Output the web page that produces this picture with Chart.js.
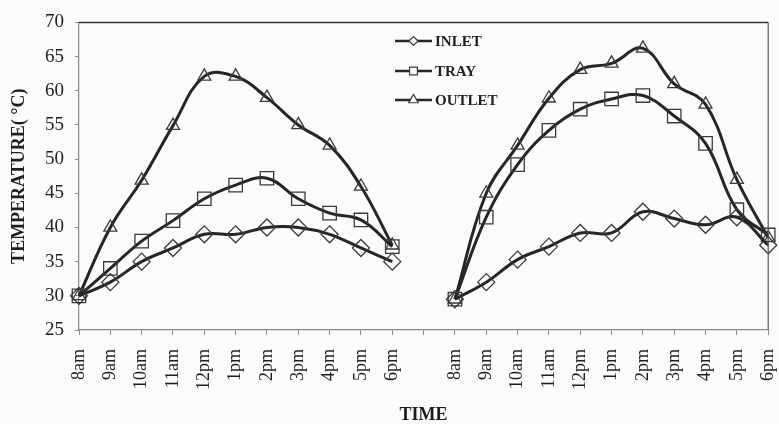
<!DOCTYPE html>
<html>
<head>
<meta charset="utf-8">
<script src="https://cdn.jsdelivr.net/npm/chart.js@4.4.1/dist/chart.umd.min.js"></script>
<style>
  html, body { margin: 0; padding: 0; background: #fbfbfb; }
  #wrap { width: 779px; height: 424px; position: relative; }
</style>
</head>
<body>
<div id="wrap"><canvas id="c" width="779" height="424"></canvas></div>
<script>
const categories = ['8am','9am','10am','11am','12pm','1pm','2pm','3pm','4pm','5pm','6pm','',
                    '8am','9am','10am','11am','12pm','1pm','2pm','3pm','4pm','5pm','6pm'];
const seriesNames = ['INLET', 'TRAY', 'OUTLET'];
const inlet  = [30, 32, 35, 37, 39, 39, 40, 40, 39, 37, 35, null,
                29.5, 32, 35.3, 37.2, 39.2, 39.2, 42.3, 41.3, 40.4, 41.5, 37.4];
const tray   = [30, 34, 38, 41, 44.2, 46.2, 47.2, 44.2, 42.1, 41.1, 37.2, null,
                29.5, 41.5, 49.2, 54.2, 57.3, 58.8, 59.3, 56.3, 52.3, 42.6, 38.9];
const outlet = [30, 40, 46.9, 54.9, 62.1, 62.1, 59, 55, 52, 46, 37.4, null,
                29.5, 45, 52, 58.9, 63.1, 64, 66.2, 61, 58, 47, 38.5];
const yTicks = [25, 30, 35, 40, 45, 50, 55, 60, 65, 70];

const FONT = '"Liberation Serif", "Times New Roman", serif';
const LINE = '#262626';
const MARK = '#3a3a3a';
const styles = [
  { pointStyle: 'rectRot', radius: 8.5 },
  { pointStyle: 'rect', radius: 9.5 },
  { pointStyle: 'triangle', radius: 7.5 }
];
const values = [inlet, tray, outlet];

const datasets = values.map((v, i) => ({
  label: seriesNames[i],
  data: v,
  borderColor: LINE,
  borderWidth: 3,
  tension: 0.4,
  spanGaps: false,
  pointStyle: styles[i].pointStyle,
  pointRadius: styles[i].radius,
  pointBorderColor: MARK,
  pointBackgroundColor: 'rgba(0,0,0,0)',
  pointBorderWidth: 1.3,
  fill: false
}));

const framePlugin = {
  id: 'frame',
  afterDraw(chart) {
    const { ctx, chartArea: a } = chart;
    ctx.save();
    ctx.strokeStyle = '#333';
    ctx.lineWidth = 1.5;
    ctx.beginPath();
    ctx.moveTo(a.left, a.top);
    ctx.lineTo(a.right, a.top);
    ctx.stroke();
    ctx.strokeStyle = '#555';
    ctx.lineWidth = 1.2;
    ctx.beginPath();
    ctx.moveTo(a.right, a.top);
    ctx.lineTo(a.right, a.bottom);
    ctx.stroke();

    // legend inside the plot area
    const lx0 = 395, lx1 = 432, rows = [41, 71, 100];
    const lr = [4.5, 5.5, 5.5];
    ctx.font = 'bold 15px ' + FONT;
    ctx.textBaseline = 'middle';
    ctx.textAlign = 'left';
    rows.forEach((y, i) => {
      ctx.strokeStyle = LINE;
      ctx.lineWidth = 2.5;
      ctx.beginPath();
      ctx.moveTo(lx0, y);
      ctx.lineTo(lx1, y);
      ctx.stroke();
      ctx.lineWidth = 1.2;
      ctx.strokeStyle = MARK;
      ctx.fillStyle = '#fbfbfb';
      Chart.helpers.drawPoint(ctx, { pointStyle: styles[i].pointStyle, radius: lr[i], rotation: 0, borderWidth: 1.2 }, (lx0 + lx1) / 2, y);
      ctx.fillStyle = '#1e1e1e';
      ctx.fillText(seriesNames[i], lx1 + 3, y + 1);
    });
    ctx.restore();
  }
};

new Chart(document.getElementById('c'), {
  type: 'line',
  data: { labels: categories, datasets },
  options: {
    responsive: false,
    animation: false,
    events: [],
    layout: { padding: { left: 0, right: 3, top: 16, bottom: 0 } },
    plugins: { legend: { display: false }, tooltip: { enabled: false } },
    scales: {
      x: {
        type: 'category',
        offset: false,
        grid: { display: true, drawOnChartArea: false, drawTicks: true, tickLength: 5, color: '#8a8a8a', lineWidth: 1 },
        border: { display: true, color: '#8a8a8a', width: 1.2 },
        ticks: {
          autoSkip: false, maxRotation: 90, minRotation: 90, padding: 14,
          color: '#1e1e1e', font: { family: FONT, size: 18 }
        },
        title: {
          display: true, text: 'TIME', color: '#1e1e1e',
          font: { family: FONT, size: 18, weight: 'bold', lineHeight: 1 },
          padding: { top: 0, bottom: 0 }
        },
        afterFit(s) { s.height = 94; s.paddingLeft = 0; s.paddingRight = 0; }
      },
      y: {
        min: 25, max: 70,
        afterBuildTicks(s) { s.ticks = yTicks.map(v => ({ value: v })); },
        grid: { display: true, drawOnChartArea: false, drawTicks: true, tickLength: 4, color: '#8a8a8a' },
        border: { display: true, color: '#8a8a8a', width: 1.2 },
        ticks: { padding: 11, color: '#1e1e1e', font: { family: FONT, size: 19 } },
        title: {
          display: true, text: 'TEMPERATURE( °C)', color: '#1e1e1e',
          font: { family: FONT, size: 18, weight: 'bold', lineHeight: 1.2 },
          padding: { top: 9, bottom: 0 }
        },
        afterFit(s) { s.width = 79; }
      }
    }
  },
  plugins: [framePlugin]
});
</script>
</body>
</html>
